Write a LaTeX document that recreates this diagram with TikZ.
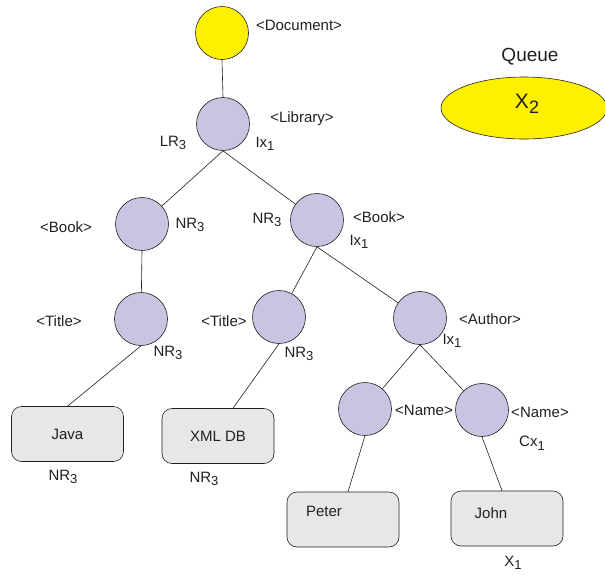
\documentclass[tikz,border=0pt]{standalone}
\usepackage{fontspec}
\setmainfont{Liberation Sans}
\usetikzlibrary{calc,shapes.geometric}
\definecolor{docyellow}{HTML}{FFF000}
\definecolor{elemfill}{HTML}{C8C5E2}
\definecolor{leaffill}{HTML}{E6E7E9}
\definecolor{ink}{HTML}{231F20}
% lowered subscript in the label font
\newcommand\lo[1]{\raisebox{-0.45ex}{\fontsize{13}{13}\selectfont #1}}
\begin{document}
\begin{tikzpicture}[x=1pt,y=-1pt,
  every node/.style={text=ink, font=\fontsize{15}{15}\selectfont},
  elem/.style={circle, draw=ink, line width=0.6pt, fill=elemfill, minimum size=53pt, inner sep=0pt},
  root/.style={elem, fill=docyellow},
  leaf/.style={draw=ink, line width=0.6pt, fill=leaffill, rounded corners=10pt,
    minimum width=112pt, minimum height=55pt, inner sep=0pt},
  edge/.style={draw=ink, line width=0.6pt}]
\useasboundingbox (0,0) rectangle (605,574);

% tree nodes
\node[root] (doc)    at (222,33)  {};
\node[elem] (lib)    at (223,124) {};
\node[elem] (bookL)  at (142,224) {};
\node[elem] (titleL) at (141,319) {};
\node[elem] (bookR)  at (317,220) {};
\node[elem] (titleR) at (279,317) {};
\node[elem] (author) at (420,318) {};
\node[elem] (nameL)  at (365,409) {};
\node[elem] (nameR)  at (482,410) {};

% text leaves
\node[leaf] (java)  at (67.5,434) {Java};
\node[leaf] (xml)   at (218,436)  {XML DB};
\node[leaf, label={[xshift=-19pt,yshift=8pt]center:Peter}] (peter) at (343,519.5) {};
\node[leaf, label={[xshift=-16pt,yshift=5pt]center:John}]  (john)  at (507,518.5) {};

% queue
\node (queuetitle) at (530,57) {\fontsize{19}{19}\selectfont Queue};
\node[ellipse, draw=ink, line width=0.6pt, fill=docyellow, minimum width=166pt, minimum height=62pt, inner sep=0pt]
  (queue) at (524,108) {};
\node (x2) at (527,104) {\fontsize{21}{21}\selectfont X\raisebox{-0.45ex}{\fontsize{18}{18}\selectfont 2}};

% edges
\draw[edge] (doc.south) -- (lib.north);
\draw[edge] (lib.south) -- (bookL);
\draw[edge] (lib.south) -- (bookR);
\draw[edge] (bookL.south) -- (titleL);
\draw[edge] (titleL.south) -- (java.north);
\draw[edge] (bookR.south) -- (titleR);
\draw[edge] (bookR.south) -- (author);
\draw[edge] (titleR.south) -- ($(xml.north)+(15,0)$);
\draw[edge] (author.south) -- (nameL);
\draw[edge] (author.south) -- (nameR);
\draw[edge] (nameL.south) -- ($(peter.north)+(5,0)$);
\draw[edge] (nameR.south) -- ($(john.north)+(-5,0)$);

% tags and annotations
\node (tdoc)    at (299,25)  {<Document>};
\node (tlib)    at (302,119) {<Library>};
\node (alibL)   at (173,143) {LR\lo{3}};
\node (alibR)   at (265,144) {Ix\lo{1}};
\node (tbookL)  at (66,227)  {<Book>};
\node (abookL)  at (190,225) {NR\lo{3}};
\node (ttitleL) at (59,321)  {<Title>};
\node (atitleL) at (168,353) {NR\lo{3}};
\node (abookRL) at (267,220) {NR\lo{3}};
\node (tbookR)  at (379,217) {<Book>};
\node (abookR)  at (359,242) {Ix\lo{1}};
\node (ttitleR) at (224,321) {<Title>};
\node (atitleR) at (299,354) {NR\lo{3}};
\node (tauthor) at (490,319) {<Author>};
\node (aauthor) at (452,341) {Ix\lo{1}};
\node (tnameL)  at (424,410) {<Name>};
\node (tnameR)  at (540,412) {<Name>};
\node (anameR)  at (532,443) {Cx\lo{1}};
\node (ajava)   at (63,477)  {NR\lo{3}};
\node (axml)    at (204,479) {NR\lo{3}};
\node (ajohn)   at (513,563) {X\lo{1}};
\end{tikzpicture}
\end{document}
